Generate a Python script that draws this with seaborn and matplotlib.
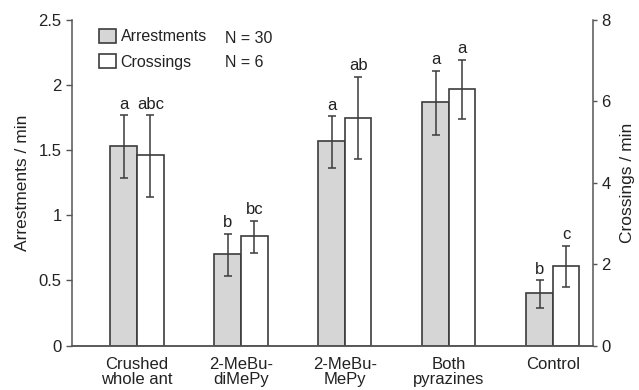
import numpy as np
import pandas as pd
import matplotlib
matplotlib.use("Agg")
import matplotlib.pyplot as plt
import seaborn as sns
from matplotlib.patches import Patch

sns.set_theme(style="ticks")
plt.rcParams["font.family"] = ["Liberation Sans", "DejaVu Sans"]

# Treatments and group means with error bar limits
treatments = ["Crushed\nwhole ant", "2-MeBu-\ndiMePy", "2-MeBu-\nMePy", "Both\npyrazines", "Control"]
arrest_mean = [1.53, 0.70, 1.57, 1.87, 0.40]
arrest_low = [1.29, 0.53, 1.36, 1.62, 0.29]
arrest_high = [1.77, 0.86, 1.76, 2.11, 0.50]
arrest_letters = ["a", "b", "a", "a", "b"]

cross_mean = [4.68, 2.70, 5.60, 6.30, 1.96]
cross_low = [3.66, 2.28, 4.58, 5.56, 1.45]
cross_high = [5.66, 3.07, 6.61, 7.02, 2.45]
cross_letters = ["abc", "bc", "ab", "a", "c"]

series = ["Arrestments", "Crossings"]
n_labels = ["N = 30", "N = 6"]

edge = "#3c3c3c"
txt = "#222222"
fills = {"Arrestments": "#d6d6d6", "Crossings": "#ffffff"}

df_a = pd.DataFrame({"treatment": treatments, "rate": arrest_mean, "series": "Arrestments"})
df_c = pd.DataFrame({"treatment": treatments, "rate": cross_mean, "series": "Crossings"})

fig = plt.figure(figsize=(6.39, 3.90), dpi=100)
ax = fig.add_axes([72 / 639, 1 - 345.5 / 390, (593 - 72) / 639, (345.5 - 20) / 390])
ax2 = ax.twinx()

width = 0.51
for axis, df in ((ax, df_a), (ax2, df_c)):
    sns.barplot(data=df, x="treatment", y="rate", hue="series", hue_order=series,
                order=treatments, palette=fills, width=width, gap=0, dodge=True,
                edgecolor=edge, linewidth=1.2, errorbar=None, legend=False, ax=axis)

x = np.arange(len(treatments))
off = width / 4
for axis, xs, mean, lo, hi, letters in (
        (ax, x - off, arrest_mean, arrest_low, arrest_high, arrest_letters),
        (ax2, x + off, cross_mean, cross_low, cross_high, cross_letters)):
    mean = np.array(mean)
    yerr = np.vstack([mean - np.array(lo), np.array(hi) - mean])
    axis.errorbar(xs, mean, yerr=yerr, fmt="none", ecolor=edge, elinewidth=1.1,
                  capsize=3, capthick=1.1, zorder=5)
    for xi, h, t in zip(xs, hi, letters):
        axis.annotate(t, (xi, h), xytext=(0, 2.5), textcoords="offset points",
                      ha="center", va="bottom", fontsize=12, color=txt)

ax.set_xlim(-0.625, 4.385)
ax.set_ylim(0, 2.5)
ax2.set_ylim(0, 8)
ax.set_yticks([0, 0.5, 1, 1.5, 2, 2.5])
ax.set_yticklabels(["0", "0.5", "1", "1.5", "2", "2.5"])
ax2.set_yticks([0, 2, 4, 6, 8])

for a in (ax, ax2):
    a.spines["top"].set_visible(False)
    for s in ("left", "right", "bottom"):
        a.spines[s].set_color("#555555")
        a.spines[s].set_linewidth(1.1)
    a.set_xlabel("")
ax.tick_params(axis="y", length=4.5, width=1, color="#555555", labelsize=12,
               labelcolor=txt, pad=3)
ax2.tick_params(axis="y", length=3, width=1, color="#555555", labelsize=12,
                labelcolor=txt, pad=3)
ax.spines["right"].set_visible(False)
ax2.spines["left"].set_visible(False)
ax.tick_params(axis="x", length=0, labelsize=12, labelcolor=txt, pad=8)
for lbl in ax.get_xticklabels():
    lbl.set_linespacing(1.05)

ax.set_ylabel("Arrestments / min", fontsize=12.5, color=txt, labelpad=6)
ax2.set_ylabel("Crossings / min", fontsize=12.5, color=txt, labelpad=7)

handles = [Patch(facecolor=fills[s], edgecolor=edge, linewidth=1.2) for s in series]
leg = ax.legend(handles, series, loc="upper left", bbox_to_anchor=(0.052, 0.973),
                frameon=False, fontsize=11.5, handlelength=1.05, handleheight=1.0,
                handletextpad=0.3, labelspacing=0.61, borderaxespad=0, borderpad=0)
for t in leg.get_texts():
    t.set_color(txt)
for i, (n, yb) in enumerate(zip(n_labels, [0.930, 0.855])):
    ax.text(0.294, yb, n, transform=ax.transAxes, fontsize=11.5,
            color=txt, ha="left", va="baseline")

fig.savefig("out.png", dpi=100)
